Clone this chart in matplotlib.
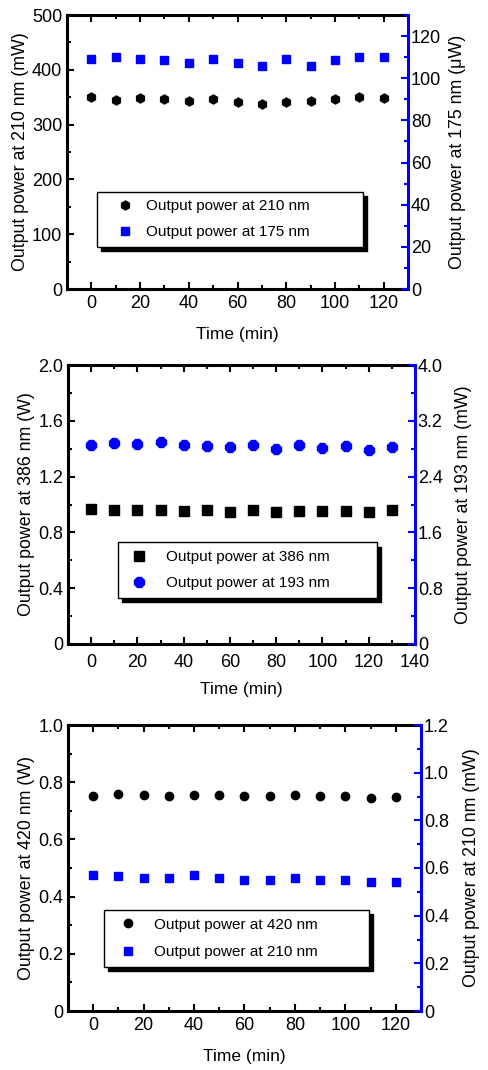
import matplotlib
matplotlib.use("Agg")
import matplotlib.pyplot as plt
from matplotlib.ticker import MultipleLocator

plt.rcParams['font.family'] = ['Liberation Sans', 'DejaVu Sans']

# panel a: 210 nm / 175 nm
t_a = [0, 10, 20, 30, 40, 50, 60, 70, 80, 90, 100, 110, 120]
p210_a = [350, 345, 349, 346, 343, 346, 342, 337, 342, 343, 346, 350, 349]
p175_a = [109, 110, 109, 108.8, 107, 109, 107.3, 105.8, 109, 105.8, 108.8, 110, 110]

# panel b: 386 nm / 193 nm
t_b = [0, 10, 20, 30, 40, 50, 60, 70, 80, 90, 100, 110, 120, 130]
p386_b = [0.967, 0.959, 0.959, 0.962, 0.955, 0.959, 0.947, 0.962, 0.947, 0.955, 0.950, 0.950, 0.947, 0.959]
p193_b = [2.854, 2.888, 2.873, 2.893, 2.850, 2.840, 2.821, 2.859, 2.797, 2.850, 2.807, 2.835, 2.788, 2.826]

# panel c: 420 nm / 210 nm
t_c = [0, 10, 20, 30, 40, 50, 60, 70, 80, 90, 100, 110, 120]
p420_c = [0.753, 0.760, 0.756, 0.753, 0.756, 0.755, 0.751, 0.752, 0.754, 0.752, 0.753, 0.745, 0.748]
p210_c = [0.569, 0.568, 0.559, 0.559, 0.569, 0.559, 0.550, 0.550, 0.559, 0.550, 0.550, 0.540, 0.540]

W, H = 489, 1070
fig = plt.figure(figsize=(W / 100, H / 100), dpi=100)


def make_axes(left, right, top, bottom):
    return fig.add_axes([left / W, 1 - bottom / H, (right - left) / W, (bottom - top) / H])


def style(ax, ax2, xmax, ylim, ymaj, ymin, y2lim, y2maj, y2min, xpad=4):
    ax.set_xlim(-10, xmax)
    ax.set_ylim(*ylim)
    ax2.set_ylim(*y2lim)
    ax.xaxis.set_major_locator(MultipleLocator(20))
    ax.xaxis.set_minor_locator(MultipleLocator(10))
    ax.yaxis.set_major_locator(MultipleLocator(ymaj))
    ax.yaxis.set_minor_locator(MultipleLocator(ymin))
    ax2.yaxis.set_major_locator(MultipleLocator(y2maj))
    ax2.yaxis.set_minor_locator(MultipleLocator(y2min))
    for s in ['left', 'bottom', 'top']:
        ax.spines[s].set_linewidth(2.2)
        ax2.spines[s].set_visible(False)
    ax2.spines['right'].set_color('blue')
    ax2.spines['right'].set_linewidth(2.2)
    ax.spines['right'].set_visible(False)
    ax.tick_params(axis='both', which='both', direction='in', top=True, labelsize=13, width=1.5)
    ax.tick_params(axis='x', which='both', pad=xpad)
    ax.tick_params(which='major', length=5)
    ax.tick_params(which='minor', length=3)
    ax2.tick_params(axis='y', which='both', direction='in', colors='blue', labelcolor='black',
                    labelsize=13, width=1.5, pad=2)
    ax2.tick_params(which='major', length=5)
    ax2.tick_params(which='minor', length=3)
    ax.set_xlabel('Time (min)', fontsize=12.5, labelpad=11)


def legend(ax, handles, labels, bbox, hl, tp, ls=0.8):
    ax.legend(handles, labels, loc='lower left', bbox_to_anchor=bbox, mode='expand',
              borderaxespad=0, fontsize=11, frameon=True, fancybox=False, borderpad=0.5,
              labelspacing=ls, handletextpad=tp, handlelength=hl,
              edgecolor='black', shadow={'color': 'black', 'alpha': 1, 'ox': 3, 'oy': -3})
    leg = ax.get_legend()
    leg.get_frame().set_linewidth(1.0)
    leg.set_zorder(10)


def one_decimal(v, pos):
    return '0' if v == 0 else f'{v:.1f}'


# ---- panel a ----
ax = make_axes(67, 408, 15, 289)
ax2 = ax.twinx()
style(ax, ax2, 130, (0, 500), 100, 50, (0, 130), 20, 10)
h1, = ax.plot(t_a, p210_a, 'h', color='black', ms=6.5, ls='none')
h2, = ax2.plot(t_a, p175_a, 's', color='blue', ms=5.5, ls='none')
ax.set_ylabel('Output power at 210 nm (mW)', fontsize=12.8, labelpad=2)
ax2.set_ylabel('Output power at 175 nm (\u03bcW)', fontsize=12.8, labelpad=6)
legend(ax2, [h1, h2], ['Output power at 210 nm', 'Output power at 175 nm'],
       (0.088, 0.153, 0.78, 0.2), 2.6, 0.1)

# ---- panel b ----
ax = make_axes(68, 415, 365, 644)
ax2 = ax.twinx()
style(ax, ax2, 140, (0, 2.0), 0.4, 0.2, (0, 4.0), 0.8, 0.4, xpad=7)
ax.yaxis.set_major_formatter(one_decimal)
ax2.yaxis.set_major_formatter(one_decimal)
h1, = ax.plot(t_b, p386_b, 's', color='black', ms=7, ls='none')
h2, = ax2.plot(t_b, p193_b, '8', color='blue', ms=7.5, ls='none')
ax.xaxis.labelpad = 8
ax.set_ylabel('Output power at 386 nm (W)', fontsize=12.8, labelpad=2)
ax2.set_ylabel('Output power at 193 nm (mW)', fontsize=12.8, labelpad=9)
legend(ax2, [h1, h2], ['Output power at 386 nm', 'Output power at 193 nm'],
       (0.144, 0.165, 0.746, 0.19), 1.75, 0.9)

# ---- panel c ----
ax = make_axes(68, 421, 725, 1011)
ax2 = ax.twinx()
style(ax, ax2, 130, (0, 1.0), 0.2, 0.1, (0, 1.2), 0.2, 0.1)
ax.yaxis.set_major_formatter(one_decimal)
ax2.yaxis.set_major_formatter(one_decimal)
h1, = ax.plot(t_c, p420_c, 'o', color='black', ms=6, ls='none')
h2, = ax2.plot(t_c, p210_c, 's', color='blue', ms=5.5, ls='none')
ax.set_ylabel('Output power at 420 nm (W)', fontsize=12.8, labelpad=2)
ax2.set_ylabel('Output power at 210 nm (mW)', fontsize=12.8, labelpad=10)
legend(ax2, [h1, h2], ['Output power at 420 nm', 'Output power at 210 nm'],
       (0.102, 0.154, 0.751, 0.196), 2.14, 0.63, ls=0.9)

fig.savefig('out.png', dpi=100)
